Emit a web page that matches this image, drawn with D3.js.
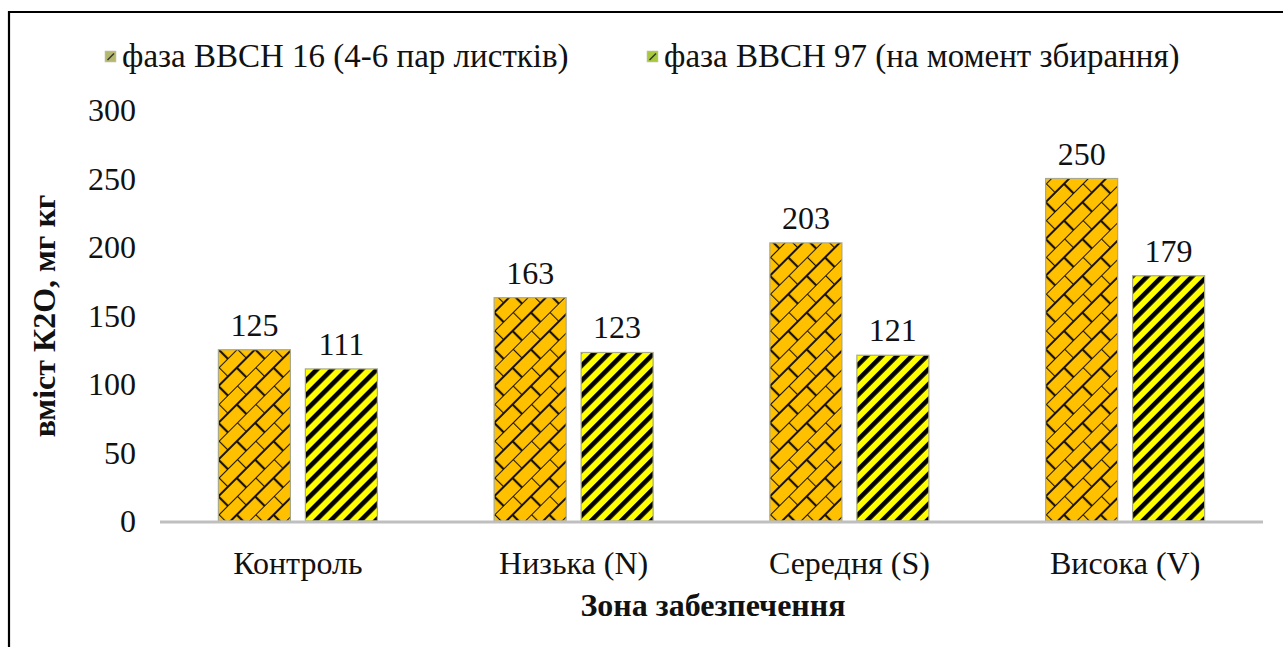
<!DOCTYPE html>
<html>
<head>
<meta charset="utf-8">
<script src="https://cdn.jsdelivr.net/npm/d3@7"></script>
<style>
  body { margin: 0; background: #fff; }
  svg { display: block; }
  text { font-family: "Liberation Serif", "Times New Roman", "DejaVu Serif", serif; }
</style>
</head>
<body>
<svg width="1283" height="647"></svg>
<script>
var categories = ["Контроль", "Низька (N)", "Середня (S)", "Висока (V)"];
var seriesNames = ["фаза BBCH 16 (4-6 пар листків)", "фаза BBCH 97 (на момент збирання)"];
var bbch16 = [125, 163, 203, 250];
var bbch97 = [111, 123, 121, 179];
var yTicks = [0, 50, 100, 150, 200, 250, 300];

var svg = d3.select("svg"),
  width = +svg.attr("width"),
  height = +svg.attr("height");

var plotLeft = 160, plotRight = 1263, plotTop = 110, plotBottom = 521;

var defs = svg.append("defs");

// diagonal brick pattern (orange)
function brick(id, s) {
  var p = defs.append("pattern")
    .attr("id", id)
    .attr("patternUnits", "userSpaceOnUse")
    .attr("width", 20 * s).attr("height", 20 * s)
    .attr("patternTransform", "rotate(-45)");
  p.append("rect").attr("width", 20 * s).attr("height", 20 * s).attr("fill", "#ffc000");
  p.append("path")
    .attr("d", "M0,0H" + 20 * s + "M0," + 10 * s + "H" + 20 * s
      + "M0,0V" + 10 * s + "M" + 10 * s + "," + 10 * s + "V" + 20 * s)
    .attr("stroke", "#1a1200").attr("stroke-width", 2.2).attr("fill", "none");
}
// wide upward diagonal stripes (yellow / black)
function stripes(id, s) {
  var p = defs.append("pattern")
    .attr("id", id)
    .attr("patternUnits", "userSpaceOnUse")
    .attr("width", 10.6 * s).attr("height", 10.6 * s)
    .attr("patternTransform", "rotate(45)");
  p.append("rect").attr("width", 10.6 * s).attr("height", 10.6 * s).attr("fill", "#ffff00");
  p.append("rect").attr("width", 4.6 * s).attr("height", 10.6 * s).attr("fill", "#000");
}
brick("pat16", 1.3);
stripes("pat97", 1);
var fills = ["url(#pat16)", "url(#pat97)"];
var legendFills = ["#b3b86e", "#a6c83c"];

// frame
svg.append("path")
  .attr("d", "M9," + (height + 5) + "V12H" + (width + 5))
  .attr("fill", "none").attr("stroke", "#000").attr("stroke-width", 2.2);

var x0 = d3.scaleBand()
  .domain(categories)
  .range([plotLeft, plotRight])
  .paddingInner(0.4234)
  .paddingOuter(0.2117);

var x1 = d3.scaleBand()
  .domain([0, 1])
  .range([0, x0.bandwidth()])
  .paddingInner(0.172);

var y = d3.scaleLinear()
  .domain([0, 300])
  .range([plotBottom, plotTop]);

// y tick labels
svg.append("g")
  .selectAll("text")
  .data(yTicks)
  .enter().append("text")
  .attr("x", 136)
  .attr("y", function(d) { return y(d); })
  .attr("dy", "0.35em")
  .attr("text-anchor", "end")
  .attr("font-size", 32)
  .attr("fill", "#111")
  .text(function(d) { return d; });

// bars
var groups = svg.append("g")
  .selectAll("g")
  .data(categories)
  .enter().append("g")
  .attr("transform", function(d) { return "translate(" + x0(d) + ",0)"; });

var bars = groups.selectAll("g.bar")
  .data(function(d, i) { return [bbch16[i], bbch97[i]]; })
  .enter().append("g")
  .attr("class", "bar");

bars.append("rect")
  .attr("x", function(d, j) { return x1(j); })
  .attr("y", function(d) { return y(d); })
  .attr("width", x1.bandwidth())
  .attr("height", function(d) { return plotBottom - y(d); })
  .attr("fill", function(d, j) { return fills[j]; })
  .attr("stroke", "#a8a88c")
  .attr("stroke-width", 1.2);

bars.append("text")
  .attr("x", function(d, j) { return x1(j) + x1.bandwidth() / 2; })
  .attr("y", function(d) { return y(d) - 14; })
  .attr("text-anchor", "middle")
  .attr("font-size", 32)
  .attr("fill", "#111")
  .text(function(d) { return d; });

// x axis line
svg.append("line")
  .attr("x1", plotLeft).attr("x2", plotRight)
  .attr("y1", plotBottom + 1).attr("y2", plotBottom + 1)
  .attr("stroke", "#bfbfbf").attr("stroke-width", 3);

// category labels
svg.append("g")
  .selectAll("text")
  .data(categories)
  .enter().append("text")
  .attr("x", function(d) { return x0(d) + x0.bandwidth() / 2; })
  .attr("y", 574)
  .attr("text-anchor", "middle")
  .attr("font-size", 32)
  .attr("fill", "#111")
  .text(function(d) { return d; });

// axis titles
svg.append("text")
  .attr("x", 713).attr("y", 616)
  .attr("text-anchor", "middle")
  .attr("font-size", 32).attr("font-weight", "bold")
  .attr("fill", "#111")
  .text("Зона забезпечення");

svg.append("text")
  .attr("transform", "translate(55,316) rotate(-90)")
  .attr("text-anchor", "middle")
  .attr("font-size", 32).attr("font-weight", "bold")
  .attr("fill", "#111")
  .text("вміст К2О, мг кг");

// legend
var legendX = [105, 647];
var legend = svg.append("g")
  .selectAll("g")
  .data(seriesNames)
  .enter().append("g")
  .attr("transform", function(d, i) { return "translate(" + legendX[i] + ",51)"; });

legend.append("rect")
  .attr("width", 11).attr("height", 11)
  .attr("fill", function(d, i) { return legendFills[i]; })
  .attr("stroke", "#c8c8b0").attr("stroke-width", 0.6);

legend.append("path")
  .attr("d", "M2.5,9L9,2.5")
  .attr("stroke", "#333").attr("stroke-width", 1.4);

legend.append("text")
  .attr("x", 17).attr("y", 16)
  .attr("font-size", 33)
  .attr("fill", "#111")
  .text(function(d) { return d; });
</script>
</body>
</html>
